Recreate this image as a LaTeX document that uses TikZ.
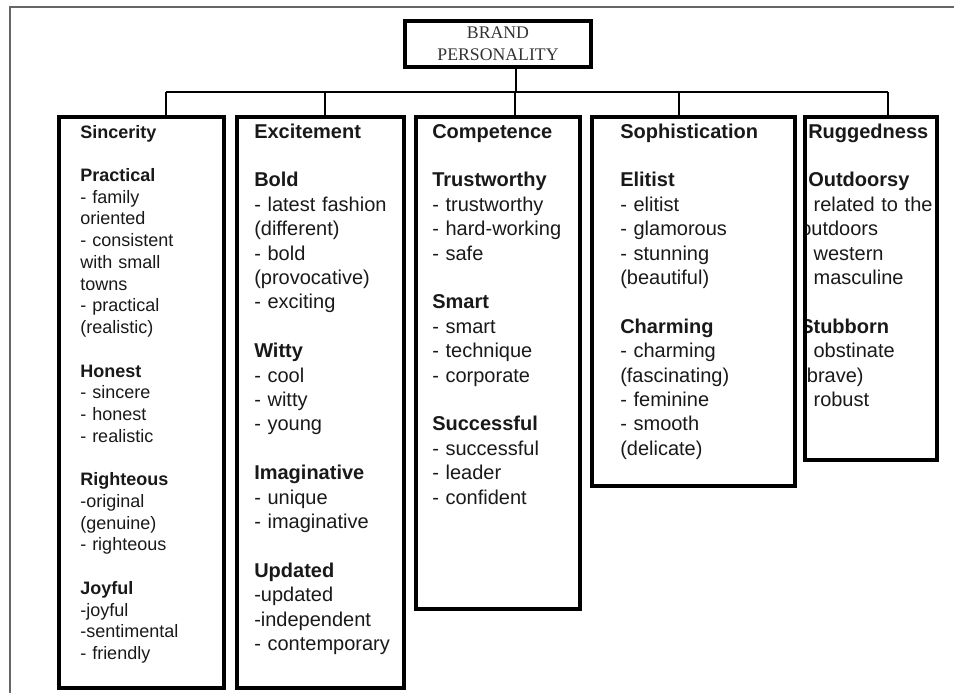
\documentclass[tikz,border=0pt]{standalone}
\usepackage{fontspec}
\setmainfont{Liberation Serif}
\setsansfont{Liberation Sans}
\usetikzlibrary{fit}
\begin{document}
\begin{tikzpicture}[x=0.75pt, y=-0.75pt,
	rootbox/.style={shape=rectangle, draw, line width=2.4pt, minimum width=139.5pt, minimum height=34.5pt, align=center, font=\fontsize{13.3}{16.5}\selectfont, text=black!80},
	catbox/.style={shape=rectangle, draw, line width=3pt, inner sep=0pt},
	coltext/.style={anchor=base west, align=left, inner sep=0pt, text width=125pt, font=\sffamily\fontsize{15}{18.3}\selectfont, text=black!90},
	link/.style={line width=2.2pt}]
	\useasboundingbox (0,0) rectangle (954,693);
	% page frame
	\draw[line width=1pt, black!60] (10,693) |- (954,7);
	\node[rootbox] (root) at (498,44){BRAND\\PERSONALITY};
	% the five boxes
	\node[catbox, fit={(59,117) (224,688)}] (sinc){};
	\node[catbox, fit={(237,117) (404,688)}] (exc){};
	\node[catbox, fit={(416,117) (580,609)}] (comp){};
	\node[catbox, fit={(592,117) (795,486)}] (soph){};
	\node[catbox, fit={(805,117) (937,460)}] (rug){};
	% tree
	\coordinate (hub) at (516,92);
	\draw[link] (root.south -| hub) -- (hub);
	\foreach \b/\x in {sinc/166, exc/325, comp/515, soph/679, rug/888}{
		\coordinate (\b-top) at (\x,92);
		\draw[link] (\b-top) -- (\b-top |- \b.north);
	}
	\draw[link] (sinc-top) -- (rug-top);
	% texts
	\node[coltext, font=\sffamily\fontsize{13.5}{16.3}\selectfont] (sinctxt) at (80,138){\textbf{Sincerity}\\[\baselineskip]
		\textbf{Practical}\\- family\\oriented\\- consistent\\with small\\towns\\- practical\\(realistic)\\[\baselineskip]
		\textbf{Honest}\\- sincere\\- honest\\- realistic\\[\baselineskip]
		\textbf{Righteous}\\-original\\(genuine)\\- righteous\\[\baselineskip]
		\textbf{Joyful}\\-joyful\\-sentimental\\- friendly};
	\node[coltext] (exctxt) at (254,138){\textbf{Excitement}\\[\baselineskip]
		\textbf{Bold}\\- latest fashion\\(different)\\- bold\\(provocative)\\- exciting\\[\baselineskip]
		\textbf{Witty}\\- cool\\- witty\\- young\\[\baselineskip]
		\textbf{Imaginative}\\- unique\\- imaginative\\[\baselineskip]
		\textbf{Updated}\\-updated\\-independent\\- contemporary};
	\node[coltext] (comptxt) at (432,138){\textbf{Competence}\\[\baselineskip]
		\textbf{Trustworthy}\\- trustworthy\\- hard-working\\- safe\\[\baselineskip]
		\textbf{Smart}\\- smart\\- technique\\- corporate\\[\baselineskip]
		\textbf{Successful}\\- successful\\- leader\\- confident};
	\node[coltext] (sophtxt) at (620,138){\textbf{Sophistication}\\[\baselineskip]
		\textbf{Elitist}\\- elitist\\- glamorous\\- stunning\\(beautiful)\\[\baselineskip]
		\textbf{Charming}\\- charming\\(fascinating)\\- feminine\\- smooth\\(delicate)};
	\begin{scope}
		\clip (807,119) rectangle (935,458);
		\node[coltext] (rugtxt) at (800,138){\hspace*{6pt}\textbf{Ruggedness}\\[\baselineskip]
			\hspace*{6pt}\textbf{Outdoorsy}\\- related to the\\outdoors\\- western\\- masculine\\[\baselineskip]
			\textbf{Stubborn}\\- obstinate\\(brave)\\- robust};
	\end{scope}
\end{tikzpicture}
\end{document}
